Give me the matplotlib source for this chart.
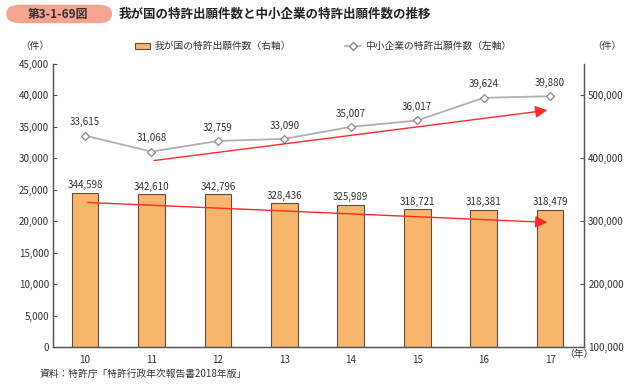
import matplotlib
matplotlib.use("Agg")
from matplotlib import pyplot as plt
from matplotlib.patches import FancyBboxPatch, Patch
from matplotlib.lines import Line2D
import numpy as np

plt.rcParams['font.family'] = ['Noto Sans CJK JP', 'DejaVu Sans']

# data
years = ["10", "11", "12", "13", "14", "15", "16", "17"]
sme_counts = [33615, 31068, 32759, 33090, 35007, 36017, 39624, 39880]      # left axis
japan_counts = [344598, 342610, 342796, 328436, 325989, 318721, 318381, 318479]  # right axis
# trend arrows: [start_index, end_index], [start_value, end_value]
sme_trend_x = [1, 7]
sme_trend_y = [29600, 37700]
japan_trend_x = [0, 7]
japan_trend_y = [330000, 298000]

bar_color = "#F8B56C"
bar_edge = "#5e4e40"
line_color = "#b0b0b0"
text_color = "#333333"

fig = plt.figure(figsize=(6.4, 3.87), dpi=100)
ax = fig.add_axes([0.083, 0.1034, 0.8295, 0.7312])
ax2 = ax.twinx()

x = np.arange(len(years))

# bars on right axis
ax2.bar(x, japan_counts, width=0.4, color=bar_color, edgecolor=bar_edge, linewidth=0.8)
for xi, v in zip(x, japan_counts):
    ax2.annotate(f"{v:,}", (xi, v), xytext=(0, 2), textcoords="offset points",
                 ha="center", va="bottom", fontsize=7, color=text_color)
ax2.annotate("", xy=(japan_trend_x[1], japan_trend_y[1]), xytext=(japan_trend_x[0], japan_trend_y[0]),
             arrowprops=dict(arrowstyle="-|>,head_length=0.6,head_width=0.3", color="#ff2a2a",
                             lw=1.0, mutation_scale=12))

# line on left axis
ax.plot(x, sme_counts, color=line_color, lw=1.3, marker="D", markersize=4.5,
        markerfacecolor="white", markeredgecolor="#8c8c8c", markeredgewidth=0.9)
for xi, v in zip(x, sme_counts):
    ax.annotate(f"{v:,}", (xi, v), xytext=(0, 6), textcoords="offset points",
                ha="center", va="bottom", fontsize=7, color=text_color)
ax.annotate("", xy=(sme_trend_x[1], sme_trend_y[1]), xytext=(sme_trend_x[0], sme_trend_y[0]),
            arrowprops=dict(arrowstyle="-|>,head_length=0.6,head_width=0.3", color="#ff2a2a",
                            lw=1.0, mutation_scale=12))

ax.set_zorder(ax2.get_zorder() + 1)
ax.patch.set_visible(False)

ax.set_xlim(-0.48, 7.51)
ax.set_ylim(0, 45000)
ax.set_yticks(np.arange(0, 45001, 5000))
ax.set_yticklabels([f"{v:,}" for v in range(0, 45001, 5000)])
ax2.set_ylim(100000, 550000)
ax2.set_yticks(np.arange(100000, 500001, 100000))
ax2.set_yticklabels([f"{v:,}" for v in range(100000, 500001, 100000)])
ax.set_xticks(x)
ax.set_xticklabels(years)

for a in (ax, ax2):
    a.spines["top"].set_visible(False)
    for s in a.spines.values():
        s.set_color("#555555")
        s.set_linewidth(0.9)
ax.tick_params(axis="y", direction="in", length=3, labelsize=7, labelcolor=text_color, color="#555555", pad=3)
ax.tick_params(axis="x", length=0, labelsize=7, labelcolor=text_color, pad=6)
ax2.tick_params(axis="y", direction="in", length=3, labelsize=7, labelcolor=text_color, color="#555555", pad=3)

# unit labels
fig.text(0.055, 0.88, "（件）", fontsize=7, color=text_color, ha="center", va="center")
fig.text(0.948, 0.88, "（件）", fontsize=7, color=text_color, ha="center", va="center")
fig.text(0.905, 0.085, "（年）", fontsize=7, color=text_color, ha="center", va="center")

# legend
handles = [Patch(facecolor=bar_color, edgecolor=bar_edge, linewidth=0.8),
           Line2D([0], [0], color=line_color, lw=1.2, marker="D", markersize=4,
                  markerfacecolor="white", markeredgecolor="#8c8c8c")]
labels = ["我が国の特許出願件数（右軸）", "中小企業の特許出願件数（左軸）"]
fig.legend(handles, labels, loc="center", bbox_to_anchor=(0.505, 0.88), ncol=2, frameon=False,
           fontsize=7, handlelength=1.6, handleheight=0.6, columnspacing=5.5, handletextpad=0.5,
           labelcolor=text_color)

# title
box = FancyBboxPatch((0.01, 0.94), 0.165, 0.048, boxstyle="round,pad=0.0,rounding_size=0.022",
                     transform=fig.transFigure, facecolor="#F4A58F", edgecolor="none")
fig.patches.append(box)
fig.text(0.09, 0.963, "第3-1-69図", fontsize=8.5, fontweight="bold", color="#333333", ha="center", va="center")
fig.text(0.186, 0.963, "我が国の特許出願件数と中小企業の特許出願件数の推移", fontsize=9,
         fontweight="bold", color="#222222", ha="left", va="center")

# source
fig.text(0.062, 0.035, "資料：特許庁「特許行政年次報告書2018年版」", fontsize=7, color=text_color,
         ha="left", va="center")

fig.savefig("out.png", dpi=100)
